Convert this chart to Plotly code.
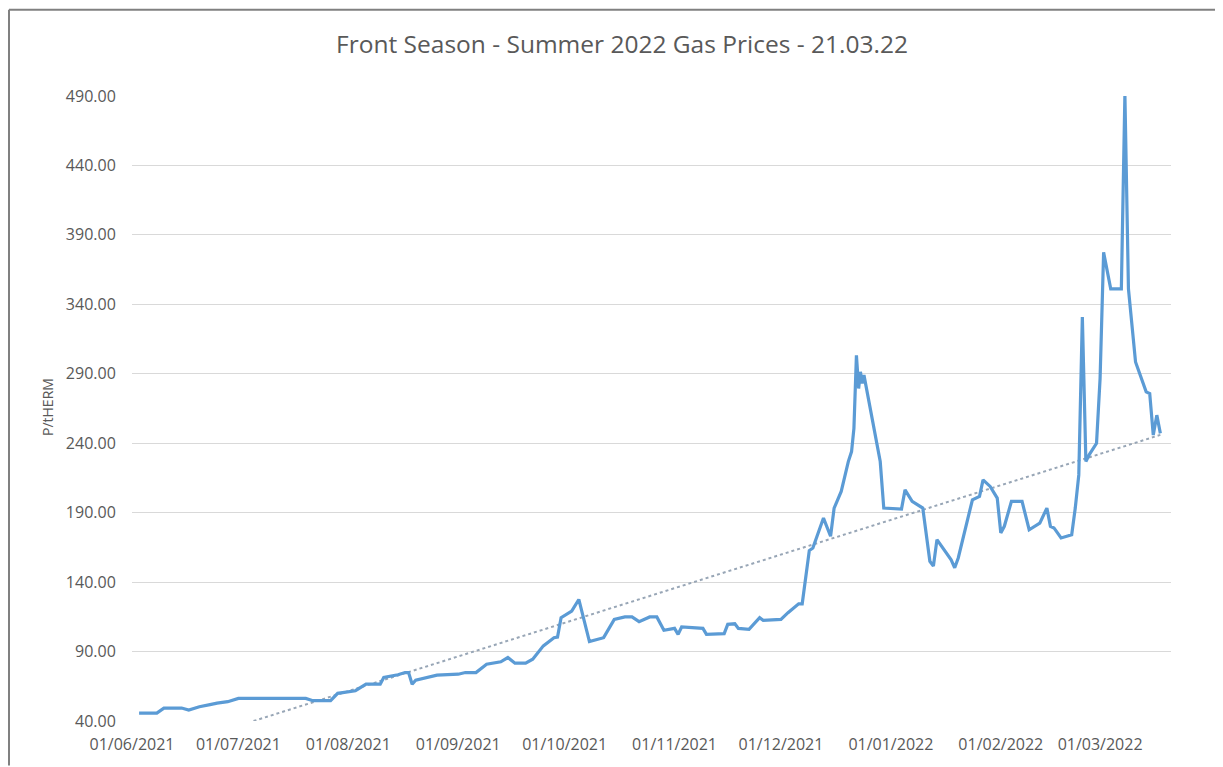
import plotly.graph_objects as go

# ---- data ----
dates = [
    "2021-06-03", "2021-06-08", "2021-06-10", "2021-06-15", "2021-06-17", "2021-06-20",
    "2021-06-23", "2021-06-25", "2021-06-28", "2021-07-01", "2021-07-20", "2021-07-22",
    "2021-07-27", "2021-07-29", "2021-08-03", "2021-08-06", "2021-08-10", "2021-08-11",
    "2021-08-15", "2021-08-17", "2021-08-18", "2021-08-19", "2021-08-20", "2021-08-23",
    "2021-08-26", "2021-09-01", "2021-09-03", "2021-09-06", "2021-09-09", "2021-09-13",
    "2021-09-15", "2021-09-17", "2021-09-20", "2021-09-22", "2021-09-25", "2021-09-28",
    "2021-09-29", "2021-09-30", "2021-10-03", "2021-10-05", "2021-10-08", "2021-10-12",
    "2021-10-15", "2021-10-18", "2021-10-20", "2021-10-22", "2021-10-25", "2021-10-27",
    "2021-10-29", "2021-11-01", "2021-11-02", "2021-11-03", "2021-11-09", "2021-11-10",
    "2021-11-15", "2021-11-16", "2021-11-18", "2021-11-19", "2021-11-22", "2021-11-25",
    "2021-11-26", "2021-12-01", "2021-12-03", "2021-12-06", "2021-12-07", "2021-12-09",
    "2021-12-10", "2021-12-13", "2021-12-15", "2021-12-16", "2021-12-18", "2021-12-20",
    "2021-12-20 22:00", "2021-12-21 14:00", "2021-12-22 07:00", "2021-12-22 22:00",
    "2021-12-23 10:00", "2021-12-23 22:00", "2021-12-24 10:00", "2021-12-29", "2021-12-30",
    "2022-01-04", "2022-01-05", "2022-01-07", "2022-01-10", "2022-01-12", "2022-01-13",
    "2022-01-14", "2022-01-18", "2022-01-19", "2022-01-20", "2022-01-24", "2022-01-26",
    "2022-01-27", "2022-01-29", "2022-01-31", "2022-02-01", "2022-02-02", "2022-02-04",
    "2022-02-07", "2022-02-09", "2022-02-12", "2022-02-14", "2022-02-15", "2022-02-16",
    "2022-02-18", "2022-02-21", "2022-02-22", "2022-02-23", "2022-02-24", "2022-02-25",
    "2022-02-26", "2022-02-28", "2022-03-01", "2022-03-02", "2022-03-04", "2022-03-07",
    "2022-03-08", "2022-03-09", "2022-03-11", "2022-03-14", "2022-03-15", "2022-03-16",
    "2022-03-17", "2022-03-18",
]
prices = [
    45.7, 45.7, 49.3, 49.3, 47.9, 50.3,
    51.8, 52.9, 53.9, 56.3, 56.3, 54.6,
    54.6, 59.9, 61.8, 66.5, 66.5, 71.3,
    73.3, 74.9, 74.9, 66.5, 69.4, 71.3,
    73.0, 73.7, 74.9, 74.9, 80.9, 82.6,
    85.7, 81.6, 81.6, 84.5, 94.1, 100.0,
    100.4, 114.4, 119.2, 127.5, 97.2, 100.0,
    113.2, 114.9, 114.9, 111.5, 114.9, 114.9,
    105.3, 106.7, 102.4, 107.7, 106.7, 102.4,
    102.9, 109.6, 110.0, 106.7, 106.0, 114.4,
    112.5, 113.2, 118.0, 124.4, 124.4, 162.7,
    164.6, 186.1, 173.0, 193.3, 205.3, 226.8,
    234.0, 250.7, 303.3, 279.4,
    291.4, 283.0, 289.0, 226.8, 193.3,
    192.6, 206.4, 198.1, 193.3, 155.0, 151.5,
    170.6, 156.0, 150.3, 157.4, 199.3, 201.7,
    213.6, 208.9, 200.5, 175.4, 180.2, 198.1,
    198.1, 177.7, 182.5, 193.3, 180.2, 179.0,
    171.8, 174.1, 193.3, 217.2, 330.8, 226.8,
    232.0, 239.9, 286.5, 377.4, 351.1, 351.1,
    491.0, 351.1, 298.5, 277.0, 275.8, 245.9,
    260.2, 247.1,
]
trend_dates = ["2021-06-03", "2022-03-18"]
trend_values = [14.0, 246.0]

y_ticks = [40, 90, 140, 190, 240, 290, 340, 390, 440, 490]
y_tick_labels = ["40.00", "90.00", "140.00", "190.00", "240.00", "290.00",
                 "340.00", "390.00", "440.00", "490.00"]
x_tick_dates = ["2021-06-01", "2021-07-01", "2021-08-01", "2021-09-01", "2021-10-01",
                "2021-11-01", "2021-12-01", "2022-01-01", "2022-02-01", "2022-03-01"]
x_tick_labels = ["01/06/2021", "01/07/2021", "01/08/2021", "01/09/2021", "01/10/2021",
                 "01/11/2021", "01/12/2021", "01/01/2022", "01/02/2022", "01/03/2022"]

title_text = "Front Season - Summer 2022 Gas Prices - 21.03.22"
y_title = "P/tHERM"

# ---- layout geometry (figure pixels; page adds an 8px body margin) ----
W, H = 1215, 759
L, T = 124, 88
PR, PB = 1163, 719          # plot right / bottom edges in figure pixels
R, B = W - PR, H - PB
pw, ph = PR - L, PB - T

def px_x(x):
    return (x - L) / pw

def px_y(y):
    return 1 - (y - T) / ph

font_family = "Open Sans, Noto Sans, DejaVu Sans, sans-serif"
text_grey = "#595959"

fig = go.Figure()
fig.add_trace(go.Scatter(
    x=trend_dates, y=trend_values, mode="lines",
    line=dict(color="#98a6b6", width=2, dash="dot"),
    showlegend=False, hoverinfo="skip",
))
fig.add_trace(go.Scatter(
    x=dates, y=prices, mode="lines",
    line=dict(color="#5b9bd5", width=3.2),
    showlegend=False,
))

fig.update_layout(
    width=W, height=H,
    margin=dict(l=L, r=R, t=T, b=B, pad=0),
    paper_bgcolor="white", plot_bgcolor="white",
    font=dict(family=font_family, color=text_grey),
    title=dict(text=title_text, x=614 / W, xref="container", xanchor="center",
               y=1 - 36 / H, yref="container", yanchor="middle",
               font=dict(size=24.5, color=text_grey, family=font_family)),
    xaxis=dict(
        type="date", range=["2021-06-01", "2022-03-21"],
        tickmode="array", tickvals=x_tick_dates, ticktext=x_tick_labels,
        showgrid=False, zeroline=False, showline=False,
        ticks="outside", ticklen=9, tickcolor="rgba(0,0,0,0)",
        tickfont=dict(size=16, color=text_grey),
    ),
    yaxis=dict(
        range=[40, 490], tickmode="array", tickvals=y_ticks, ticktext=y_tick_labels,
        showgrid=True, gridcolor="#d9d9d9", gridwidth=1, zeroline=False,
        showline=False, ticks="outside", ticklen=12, tickcolor="rgba(0,0,0,0)",
        tickfont=dict(size=16, color=text_grey),
    ),
    showlegend=False,
    annotations=[dict(
        text=y_title, xref="paper", yref="paper", x=px_x(39), y=px_y(402),
        xanchor="center", yanchor="middle", textangle=-90, showarrow=False,
        font=dict(size=14, color=text_grey, family=font_family),
    )],
    shapes=[
        dict(type="line", xref="paper", yref="paper", x0=px_x(1), x1=px_x(W + 5),
             y0=px_y(1), y1=px_y(1), line=dict(color="#808080", width=2)),
        dict(type="line", xref="paper", yref="paper", x0=px_x(1), x1=px_x(1),
             y0=px_y(1), y1=px_y(H + 5), line=dict(color="#808080", width=2)),
    ],
)

fig.write_html("out.html")
